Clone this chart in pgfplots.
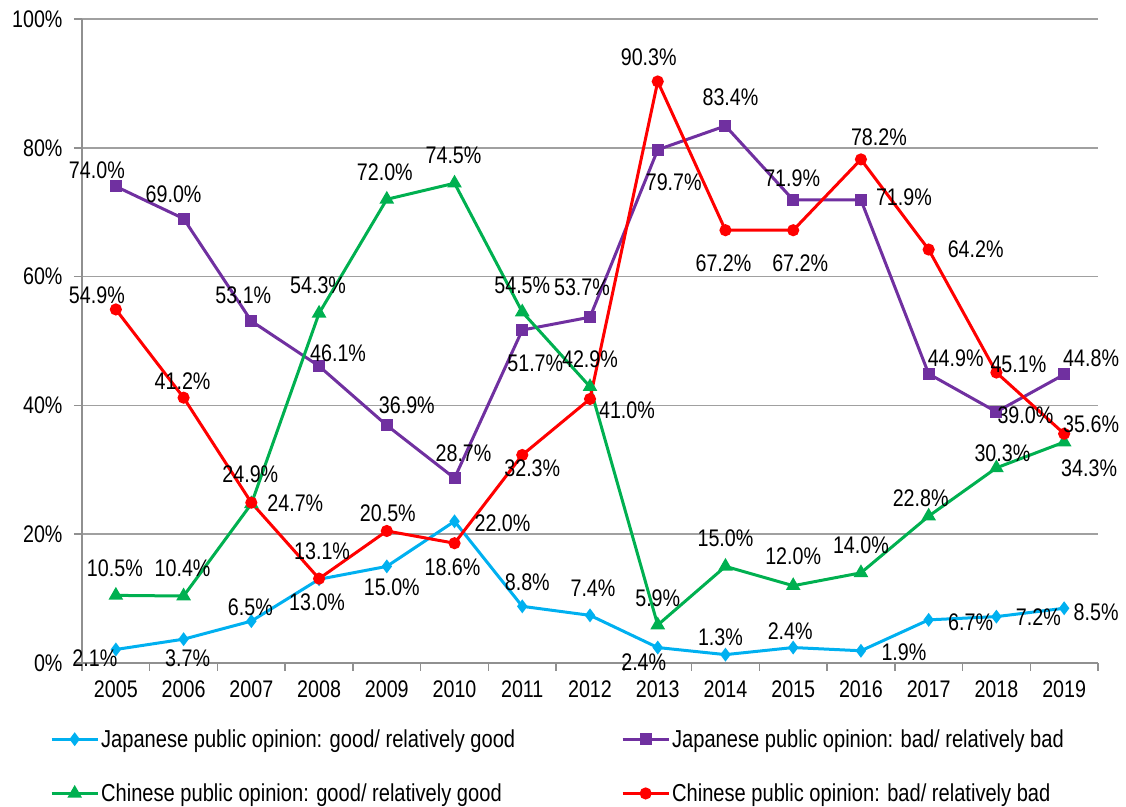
\documentclass[border=0pt]{standalone}
\usepackage{fontspec}
\setmainfont{Liberation Sans}[FakeStretch=0.82]
\usepackage{pgfplots}
\pgfplotsset{compat=1.18}
\usepackage{pgfplotstable}

\definecolor{cJG}{HTML}{00B0F0}
\definecolor{cJB}{HTML}{7030A0}
\definecolor{cCG}{HTML}{00B050}
\definecolor{cCB}{HTML}{FF0000}
\definecolor{gridc}{HTML}{A0A0A0}
\definecolor{axc}{HTML}{909090}
\newcommand\lab{\fontsize{24bp}{28bp}\selectfont}
\newcommand\leg{\fontsize{24.5bp}{28bp}\selectfont}

% x = year index (0 = 2005), y = value in %, dx/dy = label offset in bp
\pgfplotstableread{
x y dx dy
0 2.1 -21 -9
1 3.7 4 -19
2 6.5 -1 14
3 13.0 -2 -23
4 15.0 5 -21
5 22.0 48 -2
6 8.8 5 24
7 7.4 3 27
8 2.4 -14 -15
9 1.3 -5 17
10 2.4 -3 16
11 1.9 43 -1
12 6.7 42 -2
13 7.2 42 -1
14 8.5 32 -4
}\jg
\pgfplotstableread{
x y dx dy
0 74.0 -19 16
1 69.0 -10 24
2 53.1 -8 26
3 46.1 19 13
4 36.9 20 20
5 28.7 9 25
6 51.7 13 -33
7 53.7 -8 30
8 79.7 16 -33
9 83.4 5 29
10 71.9 -1 22
11 71.9 43 3
12 44.9 27 16
13 39.0 29 -3
14 44.8 27 16
}\jb
\pgfplotstableread{
x y dx dy
0 10.5 -1 27
1 10.4 -1 28
2 24.7 44 1
3 54.3 -1 28
4 72.0 -2 27
5 74.5 -1 28
6 54.5 0 27
7 42.9 0 27
8 5.9 0 27
9 15.0 0 28
10 12.0 0 29
11 14.0 0 28
12 22.8 -8 18
13 30.3 6 15
14 34.3 25 -26
}\cg
\pgfplotstableread{
x y dx dy
0 54.9 -19 14
1 41.2 -1 16
2 24.9 -1 28
3 13.1 3 27
4 20.5 1 18
5 18.6 -2 -24
6 32.3 10 -13
7 41.0 37 -11
8 90.3 -9 24
9 67.2 -2 -33
10 67.2 7 -33
11 78.2 18 22
12 64.2 47 0
13 45.1 22 8
14 35.6 27 9
}\cb

\pgfplotsset{
  lab/.style={
    nodes near coords={\pgfmathprintnumber[fixed,fixed zerofill,precision=1]{\pgfplotspointmeta}\%},
    visualization depends on={\thisrow{dx}\as\dx},
    visualization depends on={\thisrow{dy}\as\dy},
    every node near coord/.append style={anchor=center, inner sep=0pt,
      xshift=\dx*1bp, yshift=\dy*1bp, text=black, font=\lab},
  },
}

\begin{document}
\begin{tikzpicture}
\begin{axis}[
  name=ax, at={(0,0)}, anchor=south west,
  scale only axis, width=1016bp, height=644bp,
  xmin=-0.5, xmax=14.5, ymin=0, ymax=100,
  clip=false,
  axis x line=bottom, axis y line=left,
  axis line style={-, draw=axc, line width=1.5bp},
  xtick={0,...,14},
  xticklabels={2005,2006,2007,2008,2009,2010,2011,2012,2013,2014,2015,2016,2017,2018,2019},
  major x tick style={draw=none},
  minor xtick={-0.5,0.5,...,14.5},
  ytick={0,20,...,100},
  yticklabel={\pgfmathprintnumber{\tick}\%},
  /pgf/number format/assume math mode=true,
  tick align=outside,
  major tick length=8bp, minor tick length=8bp,
  tick style={draw=axc, line width=1.5bp},
  ymajorgrids,
  grid style={draw=gridc, line width=1.5bp},
  tick label style={font=\lab, text=black},
  xticklabel style={yshift=-6bp},
  yticklabel style={xshift=-8bp},
  legend columns=2,
  legend style={font=\leg, draw=none, fill=none, inner sep=0pt,
    at={(-0.0315,-0.1)}, anchor=north west,
    row sep=31bp,
    /tikz/every even column/.append style={column sep=104bp}},
  legend cell align=left,
  legend image code/.code={\draw[mark repeat=2,mark phase=2] plot coordinates {(0bp,0bp) (23bp,0bp) (46bp,0bp)};},
]
\addplot[cJG, line width=3bp, mark=diamond*, mark size=4.5bp, mark options={solid}, lab] table[x=x,y=y]{\jg};
\addlegendentry{Japanese public opinion: good/ relatively good}
\addplot[cJB, line width=3bp, mark=square*, mark size=4.5bp, mark options={solid}, lab] table[x=x,y=y]{\jb};
\addlegendentry{Japanese public opinion: bad/ relatively bad}
\addplot[cCG, line width=3bp, mark=triangle*, mark size=5.5bp, mark options={solid}, lab] table[x=x,y=y]{\cg};
\addlegendentry{Chinese public opinion: good/ relatively good}
\addplot[cCB, line width=3bp, mark=*, mark size=4.5bp, mark options={solid}, lab] table[x=x,y=y]{\cb};
\addlegendentry{Chinese public opinion: bad/ relatively bad}
\end{axis}
\pgfresetboundingbox
\path[use as bounding box] ([shift={(-82bp,-144bp)}]ax.south west) rectangle ([shift={(28bp,19bp)}]ax.north east);
\end{tikzpicture}
\end{document}
